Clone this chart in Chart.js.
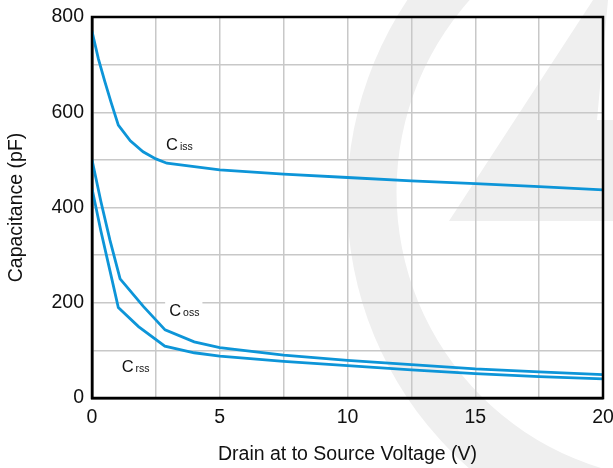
<!DOCTYPE html>
<html><head><meta charset="utf-8">
<script src="https://cdn.jsdelivr.net/npm/chart.js@4/dist/chart.umd.min.js"></script>
<style>html,body{margin:0;padding:0;background:#fff}canvas{display:block}</style>
</head><body>
<canvas id="c" width="613" height="468"></canvas>
<script>
// ---- data ----
const cissV = [0, 0.25, 0.5, 0.75, 1.03, 1.5, 2.0, 2.5, 2.93, 4, 5, 7.5, 10, 12.5, 15, 17.5, 20];
const cissC = [770, 712, 665, 620, 573, 540, 517, 502, 493, 486, 479, 470, 463, 456, 450, 444, 437];
const cossV = [0, 0.35, 0.7, 1.1, 2.0, 2.86, 4, 5, 7.5, 10, 12.5, 15, 17.5, 20];
const cossC = [500, 412, 332, 250, 193, 143, 118, 106, 90, 79, 70, 61, 55, 49];
const crssV = [0, 0.35, 0.7, 1.03, 1.82, 2.85, 4, 5, 7.5, 10, 12.5, 15, 17.5, 20];
const crssC = [440, 350, 268, 190, 150, 109, 95, 88, 77, 68, 59, 51, 45, 40];
const xTickValues = [0, 5, 10, 15, 20];
const xTickLabels = ['0', '5', '10', '15', '20'];
const yTickValues = [0, 200, 400, 600, 800];
const yTickLabels = ['0', '200', '400', '600', '800'];
const seriesMain = ['C', 'C', 'C'];
const seriesSub = ['iss', 'oss', 'rss'];
const xTitle = 'Drain at to Source Voltage (V)';
const yTitle = 'Capacitance (pF)';

// label anchors in data coordinates
const labelAnchors = [
  {v: 2.9, c: 521, box: false},
  {v: 3.02, c: 173, box: true},
  {v: 1.16, c: 55, box: false}
];

const toXY = (xs, ys) => xs.map((x, i) => ({x: x, y: ys[i]}));
const BLUE = '#0d95d8';
const FONT = '"Liberation Sans", Arial, Helvetica, sans-serif';

const watermark = {
  id: 'watermark',
  beforeDraw(chart) {
    const ctx = chart.ctx;
    ctx.save();
    ctx.fillStyle = '#fff';
    ctx.fillRect(0, 0, chart.width, chart.height);
    ctx.fillStyle = '#efefef';
    // crescent
    ctx.save();
    ctx.beginPath();
    ctx.arc(705, 199, 358, 0, Math.PI * 2);
    ctx.clip();
    ctx.beginPath();
    ctx.rect(0, 0, chart.width, chart.height);
    ctx.arc(685, 192, 288.5, 0, Math.PI * 2, true);
    ctx.fill('evenodd');
    ctx.restore();
    // diagonal band
    ctx.beginPath();
    ctx.moveTo(593, 0); ctx.lineTo(608, 0); ctx.lineTo(597, 120);
    ctx.lineTo(640, 120); ctx.lineTo(640, 221); ctx.lineTo(449, 221);
    ctx.closePath();
    ctx.fill();
    ctx.restore();
  }
};

const frameAndLabels = {
  id: 'frameAndLabels',
  afterDatasetsDraw(chart) {
    const ctx = chart.ctx;
    const a = chart.chartArea;
    const xs = chart.scales.x, ys = chart.scales.y;
    ctx.save();
    ctx.strokeStyle = '#000';
    ctx.lineWidth = 2.5;
    ctx.strokeRect(a.left, a.top, a.right - a.left, a.bottom - a.top);
    labelAnchors.forEach((l, i) => {
      const px = xs.getPixelForValue(l.v);
      const py = ys.getPixelForValue(l.c);
      ctx.font = '16.5px ' + FONT;
      const w1 = ctx.measureText(seriesMain[i]).width;
      ctx.font = '10.5px ' + FONT;
      const w2 = ctx.measureText(seriesSub[i]).width;
      if (l.box) {
        ctx.fillStyle = '#fff';
        ctx.fillRect(px - 4, py - 16, w1 + w2 + 9, 22);
      }
      ctx.fillStyle = '#111';
      ctx.textBaseline = 'alphabetic';
      ctx.textAlign = 'left';
      ctx.font = '16.5px ' + FONT;
      ctx.fillText(seriesMain[i], px, py);
      ctx.font = '10.5px ' + FONT;
      ctx.fillText(seriesSub[i], px + w1 + 2, py + 0.5);
    });
    ctx.restore();
  }
};

const ds = (xs, ys) => ({
  data: toXY(xs, ys), borderColor: BLUE, borderWidth: 2.8,
  pointRadius: 0, tension: 0, fill: false
});

new Chart(document.getElementById('c'), {
  type: 'line',
  data: { datasets: [ds(cissV, cissC), ds(cossV, cossC), ds(crssV, crssC)] },
  options: {
    responsive: false, animation: false, devicePixelRatio: 1,
    layout: { padding: { top: 17, right: 10, left: 0, bottom: 0 } },
    plugins: { legend: { display: false }, tooltip: { enabled: false } },
    scales: {
      x: {
        type: 'linear', min: 0, max: 20,
        ticks: {
          stepSize: 2.5, autoSkip: false, maxRotation: 0, padding: 8,
          color: '#111', font: { family: FONT, size: 19.5 },
          callback: v => { const i = xTickValues.indexOf(v); return i >= 0 ? xTickLabels[i] : ''; }
        },
        grid: { color: '#c8c8c8', lineWidth: 1.5, drawTicks: false },
        border: { display: true, color: '#000', width: 2.5 },
        title: { display: true, text: xTitle, color: '#111', font: { family: FONT, size: 19.5 }, padding: { top: 0, bottom: 2 } },
        afterFit: s => { s.height = 70; s.paddingLeft = 0; s.paddingRight = 0; }
      },
      y: {
        type: 'linear', min: 0, max: 800,
        ticks: {
          stepSize: 100, autoSkip: false, padding: 8,
          color: '#111', font: { family: FONT, size: 19.5 },
          callback: v => { const i = yTickValues.indexOf(v); return i >= 0 ? yTickLabels[i] : ''; }
        },
        grid: { color: '#c8c8c8', lineWidth: 1.5, drawTicks: false },
        border: { display: true, color: '#000', width: 2.5 },
        title: { display: true, text: yTitle, color: '#111', font: { family: FONT, size: 19.5 }, padding: { top: 5, bottom: 0 } },
        afterFit: s => { s.width = 92; s.paddingTop = 0; s.paddingBottom = 0; }
      }
    }
  },
  plugins: [watermark, frameAndLabels]
});
</script>
</body></html>
